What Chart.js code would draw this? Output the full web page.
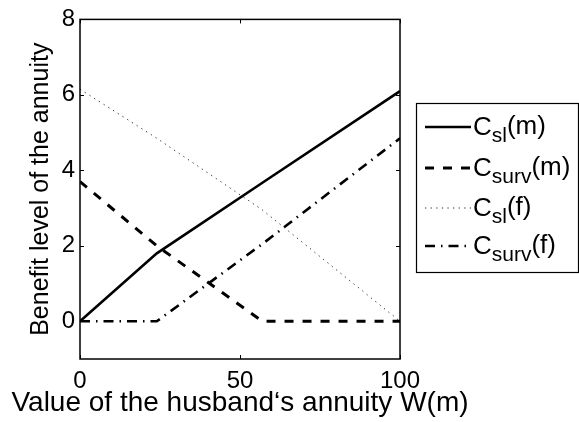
<!DOCTYPE html>
<html>
<head>
<meta charset="utf-8">
<script src="https://cdn.jsdelivr.net/npm/chart.js@4/dist/chart.umd.min.js"></script>
<style>
html,body{margin:0;padding:0;background:#fff;}
canvas{display:block;}
</style>
</head>
<body>
<canvas id="c" width="579" height="422"></canvas>
<script>
// ---- data ----
const wValues = [0, 24, 57, 100];          // husband's annuity W(m)
const cSlM    = [0, 1.8, 3.67, 6.1];
const cSurvM  = [3.7, 2.0, 0, 0];
const cSlF    = [6.15, 4.85, 2.95, 0];
const cSurvF  = [0, 0, 2.05, 4.85];
const xTicks  = [0, 50, 100];
const yTicks  = [0, 2, 4, 6, 8];
const xTitle  = 'Value of the husband\u2018s annuity W(m)';
const yTitle  = 'Benefit level of the annuity';
const legendBase   = ['C', 'C', 'C', 'C'];
const legendSub    = ['sl', 'surv', 'sl', 'surv'];
const legendSuffix = ['(m)', '(m)', '(f)', '(f)'];

const FONT = 'Arial, "Liberation Sans", Helvetica, sans-serif';

function pts(ys){ return wValues.map((x,i)=>({x:x, y:ys[i]})); }

const styles = [
  {borderColor:'#000', borderWidth:2.6, borderDash:[]},
  {borderColor:'#000', borderWidth:3, borderDash:[9,9]},
  {borderColor:'#333', borderWidth:1, borderDash:[1.3,4.3]},
  {borderColor:'#000', borderWidth:2.6, borderDash:[10,6,1.5,6]}
];
const series = [cSlM, cSurvM, cSlF, cSurvF];

const datasets = series.map((s,i)=>Object.assign({
  label: legendBase[i] + '_' + legendSub[i] + legendSuffix[i],
  data: pts(s),
  pointRadius: 0,
  tension: 0,
  fill: false,
  borderCapStyle: 'butt'
}, styles[i]));

const frame = {
  id: 'frame',
  afterDraw(chart){
    const ctx = chart.ctx, a = chart.chartArea;
    const xs = chart.scales.x, ys = chart.scales.y;
    ctx.save();
    ctx.strokeStyle = '#000';
    ctx.lineWidth = 1.5;
    ctx.strokeRect(a.left, a.top, a.right - a.left, a.bottom - a.top);
    ctx.lineWidth = 1;
    const tl = 4;
    ctx.beginPath();
    xTicks.forEach(v=>{
      const px = Math.round(xs.getPixelForValue(v)) + 0.5;
      ctx.moveTo(px, a.bottom); ctx.lineTo(px, a.bottom - tl);
      ctx.moveTo(px, a.top); ctx.lineTo(px, a.top + tl);
    });
    yTicks.forEach(v=>{
      const py = Math.round(ys.getPixelForValue(v)) + 0.5;
      ctx.moveTo(a.left, py); ctx.lineTo(a.left + tl, py);
      ctx.moveTo(a.right, py); ctx.lineTo(a.right - tl, py);
    });
    ctx.stroke();

    // axis titles
    ctx.fillStyle = '#000';
    ctx.textAlign = 'center';
    ctx.textBaseline = 'middle';
    ctx.font = '28px ' + FONT;
    ctx.fillText(xTitle, (a.left + a.right) / 2, 403);
    ctx.save();
    ctx.translate(41, (a.top + a.bottom) / 2);
    ctx.rotate(-Math.PI / 2);
    ctx.font = '25px ' + FONT;
    ctx.fillText(yTitle, 0, 0);
    ctx.restore();

    // legend
    const bx = 416, by = 103, bw = 162, bh = 169;
    ctx.fillStyle = '#fff';
    ctx.fillRect(bx, by, bw, bh);
    ctx.strokeStyle = '#000';
    ctx.lineWidth = 1.2;
    ctx.strokeRect(bx + 0.5, by + 0.5, bw, bh);
    const rowY = [127, 168, 208, 246];
    chart.data.datasets.forEach((d,i)=>{
      const y = rowY[i];
      ctx.save();
      ctx.strokeStyle = d.borderColor;
      ctx.lineWidth = d.borderWidth;
      ctx.setLineDash(d.borderDash || []);
      ctx.beginPath();
      ctx.moveTo(425, y); ctx.lineTo(471, y);
      ctx.stroke();
      ctx.restore();
      ctx.fillStyle = '#000';
      ctx.textBaseline = 'alphabetic';
      ctx.textAlign = 'left';
      let x = 473;
      const base = y + 8;
      ctx.font = '26px ' + FONT;
      ctx.fillText(legendBase[i], x, base);
      x += ctx.measureText(legendBase[i]).width;
      ctx.font = '21px ' + FONT;
      ctx.fillText(legendSub[i], x, base + 7);
      x += ctx.measureText(legendSub[i]).width;
      ctx.font = '26px ' + FONT;
      ctx.fillText(legendSuffix[i], x, base - 1);
    });
    ctx.restore();
  }
};

new Chart(document.getElementById('c'), {
  type: 'line',
  data: { datasets: datasets },
  options: {
    responsive: false,
    animation: false,
    layout: { padding: { top: 15, right: 179, left: 0, bottom: 0 } },
    plugins: { legend: { display: false }, tooltip: { enabled: false } },
    scales: {
      x: {
        type: 'linear', position: 'bottom', min: 0, max: 100,
        afterBuildTicks(s){ s.ticks = xTicks.map(v=>({value:v})); },
        afterFit(s){ s.height = 63; },
        grid: { display: false, drawTicks: false },
        border: { display: false },
        ticks: { color: '#000', font: { family: FONT, size: 24 }, padding: 8, maxRotation: 0,
                 callback: v => String(v) },
        title: { display: false }
      },
      y: {
        type: 'linear', position: 'left', min: -1, max: 8,
        afterBuildTicks(s){ s.ticks = yTicks.map(v=>({value:v})); },
        afterFit(s){ s.width = 80; },
        grid: { display: false, drawTicks: false },
        border: { display: false },
        ticks: { color: '#000', font: { family: FONT, size: 24 }, padding: 5,
                 callback: v => String(v) },
        title: { display: false }
      }
    }
  },
  plugins: [frame]
});
</script>
</body>
</html>
